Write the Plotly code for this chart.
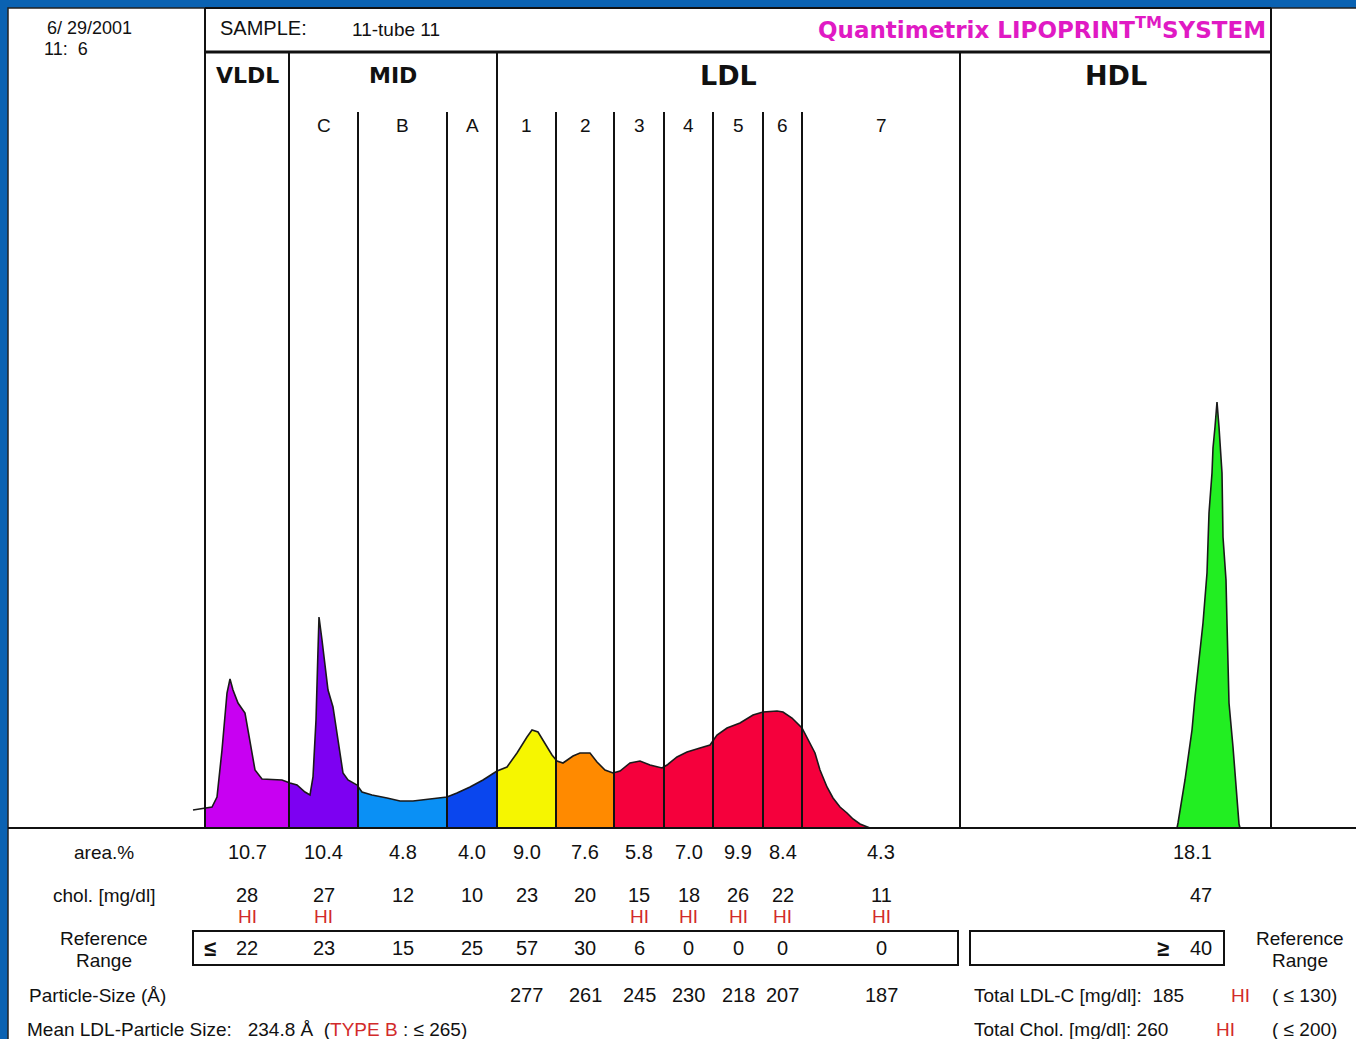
import numpy as np
import plotly.graph_objects as go

W, H = 1356, 1039

# ---------------- data ----------------
run_date = "6/ 29/2001"
run_time = "11:  6"
sample_id = "11-tube 11"
sections = ["VLDL", "MID", "LDL", "HDL"]
subfractions = ["", "C", "B", "A", "1", "2", "3", "4", "5", "6", "7"]
area_pct = ["10.7", "10.4", "4.8", "4.0", "9.0", "7.6", "5.8", "7.0", "9.9", "8.4", "4.3"]
chol_mgdl = [28, 27, 12, 10, 23, 20, 15, 18, 26, 22, 11]
chol_hi = [True, True, False, False, False, False, True, True, True, True, True]
ref_range = [22, 23, 15, 25, 57, 30, 6, 0, 0, 0, 0]
particle_size = [None, None, None, None, 277, 261, 245, 230, 218, 207, 187]
hdl_area_pct = "18.1"
hdl_chol = 47
hdl_ref_min = 40
mean_ldl_size = "234.8"
total_ldl_c = 185
total_ldl_ref = 130
total_chol = 260
total_chol_ref = 200

# densitometry scan (mobility, absorbance)
scan_mobility = [193, 205, 212, 217, 222, 227, 230, 233, 238, 245, 248, 252, 255, 262, 282,
                 290, 297, 305, 310, 313, 316, 318, 319, 322, 325, 328, 333, 337, 340, 343,
                 348, 357, 362, 372, 387, 400, 413, 433, 447, 457, 470, 483, 497, 507, 517,
                 527, 532, 538, 545, 552, 557, 563, 573, 580, 590, 597, 605, 613, 620, 630,
                 640, 650, 662, 667, 677, 687, 700, 710, 717, 727, 740, 753, 763, 777, 783,
                 792, 802, 808, 815, 820, 827, 833, 840, 847, 853, 860, 867, 870]
scan_absorb = [18, 20, 21, 31, 78, 135, 149, 138, 125, 115, 98, 75, 58, 49, 48,
               45, 43, 36, 33, 51, 108, 178, 211, 188, 161, 138, 121, 95, 71, 55,
               48, 43, 36, 33, 30, 27, 27, 29, 31, 35, 41, 48, 57, 61, 75,
               91, 98, 96, 85, 73, 67, 65, 72, 75, 75, 66, 58, 55, 57, 65,
               67, 63, 60, 63, 71, 76, 80, 83, 93, 100, 105, 113, 116, 117, 116,
               110, 100, 88, 75, 58, 41, 30, 21, 15, 9, 4, 1, 0]
hdl_mobility = [1177, 1178, 1185, 1192, 1195, 1200, 1203, 1207, 1209, 1212, 1213, 1215, 1217,
                1219, 1222, 1223, 1226, 1227, 1229, 1233, 1236, 1239, 1240]
hdl_absorb = [0, 5, 48, 98, 131, 175, 205, 255, 315, 355, 380, 401, 426,
              401, 355, 291, 248, 205, 125, 81, 41, 4, 0]

# ---------------- layout geometry (pixel space) ----------------
band_edges = [205, 289, 358, 447, 497, 556, 614, 664, 713, 763, 802, 960]
section_edges = [205, 289, 497, 960, 1271]
base_y, top_y, head_y = 828, 52, 8
band_colors = ["#c800f2", "#7d00f2", "#0a90f5", "#0a46ee", "#f6f600", "#ff8a00",
               "#f5003c", "#f5003c", "#f5003c", "#f5003c", "#f5003c"]
hdl_color = "#22ee22"
blue = "#0a62b2"
red = "#d22a2a"
ink = "#111111"
FONT = "Liberation Sans, Arial, sans-serif"
BOLD_FONT = "DejaVu Sans, Arial, sans-serif"

fig = go.Figure()

# coloured fills per subfraction
xm = np.array(scan_mobility, float)
ya = np.array(scan_absorb, float)
for i in range(len(band_edges) - 1):
    b0, b1 = band_edges[i], band_edges[i + 1]
    inside = (xm > b0) & (xm < b1)
    xs = [b0] + list(xm[inside]) + [b1]
    ys = [np.interp(b0, xm, ya)] + list(ya[inside]) + [np.interp(b1, xm, ya)]
    fig.add_trace(go.Scatter(x=xs, y=ys, xaxis="x", yaxis="y2", mode="lines",
                             line=dict(width=0), fill="tozeroy",
                             fillcolor=band_colors[i], hoverinfo="skip", showlegend=False))
fig.add_trace(go.Scatter(x=hdl_mobility, y=hdl_absorb, xaxis="x", yaxis="y2", mode="lines",
                         line=dict(width=0), fill="tozeroy", fillcolor=hdl_color,
                         hoverinfo="skip", showlegend=False))
# outline
for mx, ab in [(scan_mobility, scan_absorb), (hdl_mobility, hdl_absorb)]:
    fig.add_trace(go.Scatter(x=mx, y=ab, xaxis="x", yaxis="y2", mode="lines",
                             line=dict(color="#1a1a1a", width=1.6), hoverinfo="skip",
                             showlegend=False))

shapes = []
def line(x0, y0, x1, y1, w=2, color=ink, layer="above"):
    shapes.append(dict(type="line", xref="x", yref="y", x0=x0, y0=y0, x1=x1, y1=y1,
                       line=dict(color=color, width=w), layer=layer))

# white sheet
shapes.append(dict(type="rect", xref="x", yref="y", x0=8, y0=8, x1=W + 2, y1=H + 2,
                   fillcolor="white", line=dict(color="#222", width=1.5), layer="below"))
# frame
line(section_edges[0], head_y, section_edges[-1], head_y, 2)
line(section_edges[0], top_y, section_edges[-1], top_y, 3)
line(section_edges[0], head_y, section_edges[0], base_y, 2)
line(section_edges[-1], head_y, section_edges[-1], base_y, 2)
for e in section_edges[1:-1]:
    line(e, top_y, e, base_y, 2)
for e in band_edges[1:-1]:
    if e not in section_edges:
        line(e, 112, e, base_y, 2)
line(8, base_y, W, base_y, 2)
# reference boxes
shapes.append(dict(type="rect", xref="x", yref="y", x0=193, y0=931, x1=958, y1=965,
                   line=dict(color=ink, width=2), layer="above"))
shapes.append(dict(type="rect", xref="x", yref="y", x0=970, y0=931, x1=1224, y1=965,
                   line=dict(color=ink, width=2), layer="above"))

ann = []
def text(x, y, s, size=19, color=ink, anchor="center", bold=False, family=FONT):
    ann.append(dict(x=x, y=y, xref="x", yref="y", text=(f"<b>{s}</b>" if bold else s),
                    showarrow=False, xanchor=anchor, yanchor="middle",
                    font=dict(family=family, size=size, color=color)))

text(45, 28, run_date, 18, anchor="left")
text(42, 49, run_time, 18, anchor="left")
text(218, 28, "SAMPLE:", 20, anchor="left")
text(350, 29, sample_id, 19, anchor="left")
text(1268, 28, "Quantimetrix LIPOPRINT<sup>TM</sup>SYSTEM", 23, color="#e01ac4",
     anchor="right", bold=True, family=BOLD_FONT)

sec_sizes = [22, 22, 27, 27]
for k, s in enumerate(sections):
    cx = (section_edges[k] + section_edges[k + 1]) / 2
    text(cx, 75, s, sec_sizes[k], bold=True, family=BOLD_FONT)

centers = [(band_edges[i] + band_edges[i + 1]) / 2 for i in range(len(band_edges) - 1)]
for i, lab in enumerate(subfractions):
    if lab:
        text(centers[i], 125, lab, 19)

# table rows
text(104, 852, "area.%", 19)
text(104, 895, "chol. [mg/dl]", 19)
text(104, 938, "Reference", 19)
text(104, 960, "Range", 19)
text(1300, 938, "Reference", 19)
text(1300, 960, "Range", 19)
for i in range(len(area_pct)):
    cx = centers[i]
    text(cx, 852, area_pct[i], 20)
    text(cx, 895, str(chol_mgdl[i]), 20)
    if chol_hi[i]:
        text(cx, 916, "HI", 19, color=red)
    text(cx, 948, str(ref_range[i]), 20)
    if particle_size[i] is not None:
        text(cx, 995, str(particle_size[i]), 20)
text(210, 948, "≤", 22, bold=True)
text(1214, 852, hdl_area_pct, 20, anchor="right")
text(1214, 895, str(hdl_chol), 20, anchor="right")
text(1214, 948, str(hdl_ref_min), 20, anchor="right")
text(1163, 948, "≥", 22, bold=True)

text(27, 995, "Particle-Size (Å)", 19, anchor="left")
text(25, 1029, f"Mean LDL-Particle Size:   {mean_ldl_size} Å  (<span style='color:{red}'>TYPE B</span> : ≤ 265)",
     19, anchor="left")
text(972, 995, f"Total LDL-C [mg/dl]:  {total_ldl_c}", 19, anchor="left")
text(1240, 995, "HI", 19, color=red)
text(1270, 995, f"( ≤ {total_ldl_ref})", 19, anchor="left")
text(972, 1029, f"Total Chol. [mg/dl]: {total_chol}", 19, anchor="left")
text(1225, 1029, "HI", 19, color=red)
text(1270, 1029, f"( ≤ {total_chol_ref})", 19, anchor="left")

fig.update_layout(
    width=W, height=H, margin=dict(l=0, r=0, t=0, b=0),
    paper_bgcolor=blue, plot_bgcolor="rgba(0,0,0,0)", showlegend=False,
    xaxis=dict(range=[0, W], domain=[0, 1], visible=False, fixedrange=True),
    yaxis=dict(range=[H, 0], domain=[0, 1], visible=False, fixedrange=True),
    yaxis2=dict(range=[0, base_y - top_y], domain=[1 - base_y / H, 1 - top_y / H],
                anchor="x", visible=False, fixedrange=True),
    shapes=shapes, annotations=ann,
)

fig.write_html("out.html", config={"displayModeBar": False},
               post_script="document.body.style.margin='0';document.body.style.overflow='hidden';")
